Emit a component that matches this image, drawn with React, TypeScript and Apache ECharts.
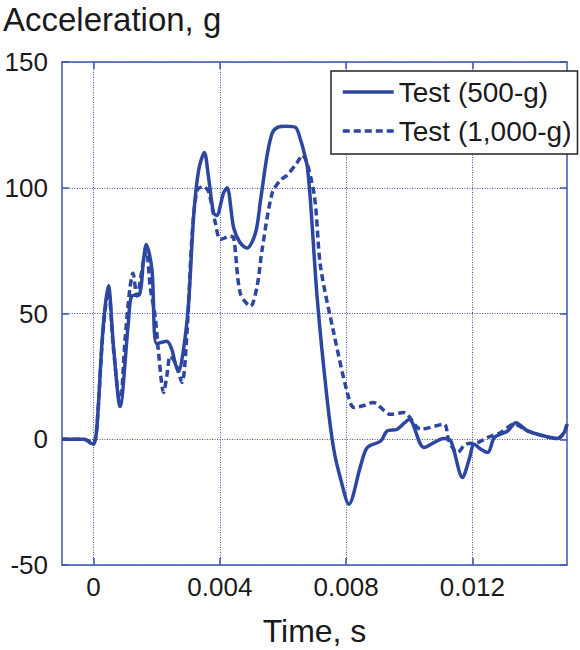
import React, { useEffect, useRef } from "react";
import * as echarts from "echarts";

// Time in milliseconds (converted to seconds when plotted)
const tSolid = [-1.0, -0.3, -0.1, 0.0, 0.1, 0.3, 0.47, 0.63, 0.84, 1.1, 1.21, 1.45, 1.58, 1.67, 1.85, 2.0, 2.32, 2.48, 2.59, 2.69, 2.85, 3.01, 3.17, 3.33, 3.51, 3.64, 3.8, 3.9, 4.12, 4.23, 4.44, 4.65, 4.86, 5.13, 5.29, 5.5, 5.66, 5.83, 6.1, 6.4, 6.56, 6.65, 6.77, 6.87, 7.09, 7.4, 7.61, 7.83, 8.09, 8.46, 8.67, 9.1, 9.3, 9.62, 10.0, 10.47, 11.1, 11.32, 11.69, 11.9, 12.06, 12.27, 12.49, 12.7, 13.12, 13.38, 13.75, 14.28, 14.7, 14.91, 15.0];
const gSolid = [0, 0, -1.5, -2, 4, 44, 61, 37, 13, 46, 57, 57.5, 71, 77.4, 67.5, 38, 39, 35.7, 30, 27, 35.7, 54, 88.6, 107, 114, 104.5, 90, 89, 98, 100, 84, 78, 76, 82, 95, 113, 121.7, 124, 124.5, 124, 119, 115, 108.5, 95, 55.5, 15.9, -4, -15.9, -25.8, -10.6, -3.3, -0.7, 3.3, 4, 7.9, -3.3, 0.3, -0.7, -15.2, -8, -2, -4, -5.3, 0.7, 3.3, 6.6, 3.3, 1.3, 0.3, 2.7, 6];

const tDashed = [-1.0, -0.3, -0.1, 0.0, 0.1, 0.3, 0.47, 0.63, 0.84, 1.0, 1.15, 1.25, 1.37, 1.57, 1.67, 1.8, 1.95, 2.05, 2.22, 2.32, 2.43, 2.59, 2.8, 2.96, 3.12, 3.28, 3.48, 3.64, 3.86, 4.02, 4.33, 4.44, 4.65, 4.97, 5.18, 5.34, 5.66, 5.92, 6.13, 6.45, 6.61, 6.98, 7.19, 7.61, 8.04, 8.25, 8.6, 8.85, 9.41, 9.83, 10.37, 11.1, 11.26, 11.53, 11.79, 12.17, 12.48, 12.9, 13.33, 13.75, 14.28, 14.7, 14.91, 15.0];
const gDashed = [0, 0, -1, -1.5, 4, 43, 59, 36, 14, 40, 60, 66, 57, 70, 75, 60, 49, 35.7, 18.6, 25, 33, 30.5, 22.6, 42.5, 80.7, 99, 100.5, 98.5, 86, 79.4, 80.7, 80, 58, 52.9, 60.8, 75.4, 97.9, 103, 105, 110, 113, 98, 68.8, 42.3, 18.5, 12.6, 13.5, 14.6, 9.9, 10.6, 4, 6, -0.7, -5.3, -2, -1.3, 0.7, 2.7, 6, 3.3, 1.3, 0.3, 2.7, 6];

const xTicks = [0, 0.004, 0.008, 0.012];
const seriesNames = ["Test (500-g)", "Test (1,000-g)"];

const LINE = "#2c46a2";
const AXIS = "#3f55b0";
const FONT = "Liberation Sans, Arial, sans-serif";

export default function App() {
  const ref = useRef<HTMLDivElement>(null);
  useEffect(() => {
    if (!ref.current) return;
    const chart = echarts.init(ref.current, undefined, { renderer: "svg" });
    const solid = tSolid.map((t, i) => [t / 1000, gSolid[i]]);
    const dashed = tDashed.map((t, i) => [t / 1000, gDashed[i]]);
    const grid = { left: 62, top: 62, right: 13, bottom: 85, outerBoundsMode: "none", containLabel: false };
    chart.setOption({
      animation: false,
      textStyle: { fontFamily: FONT },
      title: {
        text: "Acceleration, g",
        left: -2,
        top: -2,
        textStyle: { fontSize: 33, fontWeight: "normal", color: "#1a1a1a", fontFamily: FONT },
      },
      grid,
      legend: {
        orient: "vertical",
        left: 331,
        top: 71,
        backgroundColor: "#ffffff",
        borderColor: "#222",
        borderWidth: 1.5,
        borderRadius: 0,
        padding: [7, 6, 9, 10],
        itemWidth: 51,
        itemHeight: 14,
        itemGap: 11,
        itemStyle: { opacity: 0 },
        lineStyle: { width: 3.5 },
        textStyle: { fontSize: 28, color: "#1a1a1a", fontFamily: FONT },
        data: seriesNames,
      },
      xAxis: [
        {
          type: "value",
          min: -0.001,
          max: 0.015,
          name: "Time, s",
          nameLocation: "middle",
          nameGap: 50,
          nameTextStyle: { fontSize: 32, color: "#1a1a1a", fontFamily: FONT },
          axisLine: { show: true, onZero: false, lineStyle: { color: AXIS, width: 1.5 } },
          axisTick: { inside: true, length: 7, customValues: xTicks, lineStyle: { color: AXIS, width: 1.5 } },
          axisLabel: { customValues: xTicks, fontSize: 26, color: "#1a1a1a", margin: 9, formatter: (v: number) => (v === 0 ? "0" : v.toFixed(3)) },
          splitLine: { show: true, lineStyle: { color: AXIS, type: [1, 1.5], width: 1 } },
        },
        {
          type: "value",
          position: "top",
          min: -0.001,
          max: 0.015,
          axisLine: { show: true, onZero: false, lineStyle: { color: AXIS, width: 1.5 } },
          axisTick: { show: true, inside: true, length: 7, customValues: xTicks, lineStyle: { color: AXIS, width: 1.5 } },
          axisLabel: { show: false },
          splitLine: { show: false },
        },
      ],
      yAxis: [
        {
          type: "value",
          min: -50,
          max: 150,
          interval: 50,
          axisLine: { show: true, onZero: false, lineStyle: { color: AXIS, width: 1.5 } },
          axisTick: { show: true, inside: true, length: 7, lineStyle: { color: AXIS, width: 1.5 } },
          axisLabel: { fontSize: 26, color: "#1a1a1a", margin: 14 },
          splitLine: { show: true, lineStyle: { color: AXIS, type: [1, 1.5], width: 1 } },
        },
        {
          type: "value",
          position: "right",
          min: -50,
          max: 150,
          interval: 50,
          axisLine: { show: true, onZero: false, lineStyle: { color: AXIS, width: 1.5 } },
          axisTick: { show: true, inside: true, length: 7, lineStyle: { color: AXIS, width: 1.5 } },
          axisLabel: { show: false },
          splitLine: { show: false },
        },
      ],
      series: [
        {
          name: seriesNames[0],
          type: "line",
          data: solid,
          showSymbol: false,
          symbol: "none",
          smooth: 0.3,
          lineStyle: { color: LINE, width: 3.5 },
          itemStyle: { color: LINE },
          z: 3,
        },
        {
          name: seriesNames[1],
          type: "line",
          data: dashed,
          showSymbol: false,
          symbol: "none",
          smooth: 0.3,
          lineStyle: { color: LINE, width: 3.5, type: [7, 4] },
          itemStyle: { color: LINE },
          z: 2,
        },
      ],
    });
    return () => chart.dispose();
  }, []);
  return <div ref={ref} style={{ width: 580, height: 650, position: "absolute", left: 0, top: 0 }} />;
}
